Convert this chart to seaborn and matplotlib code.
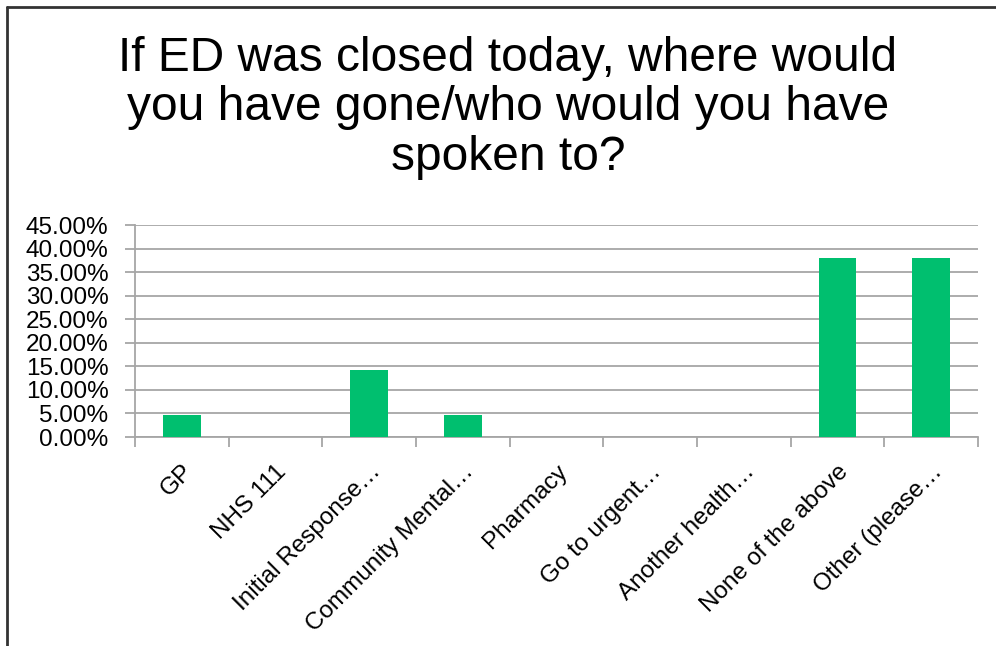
import matplotlib
matplotlib.use("Agg")
import matplotlib.pyplot as plt
import matplotlib.ticker as mticker
from matplotlib.lines import Line2D
import seaborn as sns
import pandas as pd

categories = ["GP", "NHS 111", "Initial Response…", "Community Mental…", "Pharmacy",
              "Go to urgent…", "Another health…", "None of the above", "Other (please…"]
shares = [0.0476, 0.0, 0.1429, 0.0476, 0.0, 0.0, 0.0, 0.3810, 0.3810]
y_ticks = [0.0, 0.05, 0.10, 0.15, 0.20, 0.25, 0.30, 0.35, 0.40, 0.45]
title = "If ED was closed today, where would\nyou have gone/who would you have\nspoken to?"

df = pd.DataFrame({"category": categories, "share": shares})

sns.set_theme(style="white")
plt.rcParams["font.family"] = ["Liberation Sans", "DejaVu Sans"]

fig = plt.figure(figsize=(9.96, 6.46), dpi=100)
ax = fig.add_axes([135 / 996, 1 - 437 / 646, (978 - 135) / 996, (437 - 225) / 646])

sns.barplot(data=df, x="category", y="share", color="#00BF6F", width=0.4,
            saturation=1, linewidth=0, ax=ax, zorder=3)

ax.set_ylim(0, 0.45)
ax.set_xlim(-0.5, len(categories) - 0.5)
ax.set_yticks(y_ticks)
ax.yaxis.set_major_formatter(mticker.FuncFormatter(lambda v, p: f"{v * 100:.2f}%"))
ax.yaxis.grid(True, color="#a6a6a6", linewidth=1.3, zorder=0)
ax.set_axisbelow(True)

for side in ["top", "right"]:
    ax.spines[side].set_visible(False)
for side in ["left", "bottom"]:
    ax.spines[side].set_color("#a6a6a6")
    ax.spines[side].set_linewidth(1.3)

ax.tick_params(axis="y", which="major", left=True, length=7, width=1.3, color="#a6a6a6",
               labelsize=17.5, pad=12, labelcolor="black")
ax.set_xticks(range(len(categories)))
ax.set_xticklabels(categories, rotation=45, ha="right", rotation_mode="anchor",
                   fontsize=17.5, color="black")
ax.tick_params(axis="x", which="major", bottom=False, pad=11)
ax.set_xticks([i + 0.5 for i in range(-1, len(categories))], minor=True)
ax.tick_params(axis="x", which="minor", bottom=True, length=7, width=1.3, color="#a6a6a6")
ax.set_xlabel("")
ax.set_ylabel("")

fig.text(508 / 996, 1 - 108 / 646, title, ha="center", va="center", fontsize=34.5,
         linespacing=1.12, color="black")

# outer frame edges
fig.add_artist(Line2D([7 / 996, 7 / 996], [0, 1 - 7 / 646], transform=fig.transFigure,
                      color="#333333", linewidth=2))
fig.add_artist(Line2D([7 / 996, 1], [1 - 7 / 646, 1 - 7 / 646], transform=fig.transFigure,
                      color="#333333", linewidth=2))

fig.savefig("out.png", dpi=100, facecolor="white")
